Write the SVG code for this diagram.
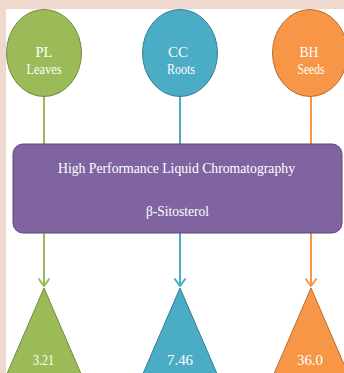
<svg xmlns="http://www.w3.org/2000/svg" width="344" height="373" viewBox="0 0 344 373">
<style>
.lbl{font-family:"Liberation Serif","Times New Roman",Times,serif;font-size:15.5px;fill:#ffffff;text-anchor:middle}
.conn{fill:none;stroke-width:2}
</style>
<defs>
<marker id="ag" viewBox="0 0 10 12" refX="9" refY="6" markerWidth="10" markerHeight="12" markerUnits="userSpaceOnUse" orient="auto"><path d="M1.5,0.5 L9,6 L1.5,11.5" fill="none" stroke="#9bbb59" stroke-width="2"/></marker>
<marker id="ab" viewBox="0 0 10 12" refX="9" refY="6" markerWidth="10" markerHeight="12" markerUnits="userSpaceOnUse" orient="auto"><path d="M1.5,0.5 L9,6 L1.5,11.5" fill="none" stroke="#4bacc6" stroke-width="2"/></marker>
<marker id="ao" viewBox="0 0 10 12" refX="9" refY="6" markerWidth="10" markerHeight="12" markerUnits="userSpaceOnUse" orient="auto"><path d="M1.5,0.5 L9,6 L1.5,11.5" fill="none" stroke="#f79646" stroke-width="2"/></marker>
</defs>
<rect x="0" y="0" width="344" height="373" fill="#efd9cf"/>
<rect x="6" y="9" width="338" height="364" fill="#ffffff"/>
<g id="connectors">
<path class="conn" d="M44,97 L44,286" stroke="#9bbb59" marker-end="url(#ag)"/>
<path class="conn" d="M180,97 L180,286" stroke="#4bacc6" marker-end="url(#ab)"/>
<path class="conn" d="M311,97 L311,286" stroke="#f79646" marker-end="url(#ao)"/>
</g>
<g id="node-pl">
<ellipse cx="44" cy="53" rx="37.5" ry="43.5" fill="#9bbb59" stroke="#71893f" stroke-width="1"/>
<text class="lbl" x="44" y="57" textLength="17" lengthAdjust="spacingAndGlyphs">PL</text>
<text class="lbl" x="44" y="74" textLength="35" lengthAdjust="spacingAndGlyphs">Leaves</text>
</g>
<g id="node-cc">
<ellipse cx="180" cy="53" rx="37.5" ry="43.5" fill="#4bacc6" stroke="#357d91" stroke-width="1"/>
<text class="lbl" x="178" y="57" textLength="20" lengthAdjust="spacingAndGlyphs">CC</text>
<text class="lbl" x="181" y="74" textLength="28" lengthAdjust="spacingAndGlyphs">Roots</text>
</g>
<g id="node-bh">
<ellipse cx="310" cy="53" rx="37.5" ry="43.5" fill="#f79646" stroke="#b66d31" stroke-width="1"/>
<text class="lbl" x="309" y="57" textLength="19" lengthAdjust="spacingAndGlyphs">BH</text>
<text class="lbl" x="311" y="74" textLength="27" lengthAdjust="spacingAndGlyphs">Seeds</text>
</g>
<g id="node-hplc">
<rect x="13" y="144" width="329" height="89" rx="10" ry="10" fill="#8064a2" stroke="#5c4776" stroke-width="1"/>
<text class="lbl" x="176.5" y="173" textLength="237" lengthAdjust="spacingAndGlyphs">High Performance Liquid Chromatography</text>
<text class="lbl" x="177.5" y="216" textLength="63" lengthAdjust="spacingAndGlyphs">β-Sitosterol</text>
</g>
<g id="node-v1">
<polygon points="44,288 6,376 82,376" fill="#9bbb59" stroke="#71893f" stroke-width="1"/>
<text class="lbl" x="43.5" y="365" textLength="21" lengthAdjust="spacingAndGlyphs">3.21</text>
</g>
<g id="node-v2">
<polygon points="180,288 142,376 218,376" fill="#4bacc6" stroke="#357d91" stroke-width="1"/>
<text class="lbl" x="180" y="365" textLength="26" lengthAdjust="spacingAndGlyphs">7.46</text>
</g>
<g id="node-v3">
<polygon points="311,288 273,376 349,376" fill="#f79646" stroke="#b66d31" stroke-width="1"/>
<text class="lbl" x="310" y="365" textLength="26" lengthAdjust="spacingAndGlyphs">36.0</text>
</g>
</svg>
